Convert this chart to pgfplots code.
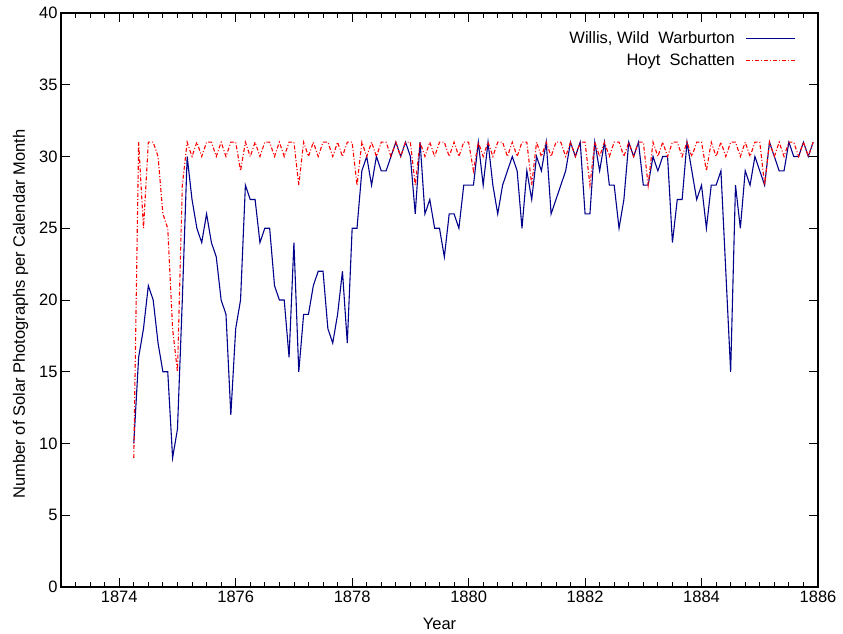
\documentclass[border=0pt]{standalone}
\usepackage{pgfplots}
\usepackage{pgfplotstable}
\pgfplotsset{compat=1.18}
\usepackage{fontspec}
\setmainfont{Liberation Sans}
\definecolor{wblue}{RGB}{0,0,139}
\definecolor{hred}{RGB}{255,0,0}
\pgfplotstableread{
yr mo wil hoyt
1874 4 10 9
1874 5 16 31
1874 6 18 25
1874 7 21 31
1874 8 20 31
1874 9 17 30
1874 10 15 26
1874 11 15 25
1874 12 9 18
1875 1 11 15
1875 2 20 28
1875 3 30 31
1875 4 27 30
1875 5 25 31
1875 6 24 30
1875 7 26 31
1875 8 24 31
1875 9 23 30
1875 10 20 31
1875 11 19 30
1875 12 12 31
1876 1 18 31
1876 2 20 29
1876 3 28 31
1876 4 27 30
1876 5 27 31
1876 6 24 30
1876 7 25 31
1876 8 25 31
1876 9 21 30
1876 10 20 31
1876 11 20 30
1876 12 16 31
1877 1 24 31
1877 2 15 28
1877 3 19 31
1877 4 19 30
1877 5 21 31
1877 6 22 30
1877 7 22 31
1877 8 18 31
1877 9 17 30
1877 10 19 31
1877 11 22 30
1877 12 17 31
1878 1 25 31
1878 2 25 28
1878 3 29 31
1878 4 30 30
1878 5 28 31
1878 6 30 30
1878 7 29 31
1878 8 29 31
1878 9 30 30
1878 10 31 31
1878 11 30 30
1878 12 31 31
1879 1 30 31
1879 2 26 28
1879 3 31 31
1879 4 26 30
1879 5 27 31
1879 6 25 30
1879 7 25 31
1879 8 23 31
1879 9 26 30
1879 10 26 31
1879 11 25 30
1879 12 28 31
1880 1 28 31
1880 2 28 29
1880 3 31 31
1880 4 28 30
1880 5 31 31
1880 6 28 30
1880 7 26 31
1880 8 28 31
1880 9 29 30
1880 10 30 31
1880 11 29 30
1880 12 25 31
1881 1 29 31
1881 2 27 28
1881 3 30 31
1881 4 29 30
1881 5 31 31
1881 6 26 30
1881 7 27 31
1881 8 28 31
1881 9 29 30
1881 10 31 31
1881 11 30 30
1881 12 31 31
1882 1 26 31
1882 2 26 28
1882 3 31 31
1882 4 29 30
1882 5 31 31
1882 6 28 30
1882 7 28 31
1882 8 25 31
1882 9 27 30
1882 10 31 31
1882 11 30 30
1882 12 31 31
1883 1 28 31
1883 2 28 28
1883 3 30 31
1883 4 29 30
1883 5 30 31
1883 6 30 30
1883 7 24 31
1883 8 27 31
1883 9 27 30
1883 10 31 31
1883 11 29 30
1883 12 27 31
1884 1 28 31
1884 2 25 29
1884 3 28 31
1884 4 28 30
1884 5 29 31
1884 6 22 30
1884 7 15 31
1884 8 28 31
1884 9 25 30
1884 10 29 31
1884 11 28 30
1884 12 30 31
1885 1 29 31
1885 2 28 28
1885 3 31 31
1885 4 30 30
1885 5 29 31
1885 6 29 30
1885 7 31 31
1885 8 30 31
1885 9 30 30
1885 10 31 31
1885 11 30 30
1885 12 31 31
}\datatable
\begin{document}
\begin{tikzpicture}[font=\fontsize{16.5bp}{19bp}\selectfont]
\path[use as bounding box] (-61bp,-47bp) rectangle (782bp,587bp);
\begin{axis}[
  at={(0,0)}, anchor=south west,
  scale only axis, width=757bp, height=574bp,
  xmin=1873, xmax=1886, ymin=0, ymax=40,
  xtick={1874,1876,...,1886},
  minor xtick={1873,1873.25,...,1886},
  ytick={0,5,...,40},
  /pgf/number format/assume math mode=true,
  xticklabel style={/pgf/number format/1000 sep={}},
  tick align=inside,
  major tick length=9bp, minor tick length=5bp,
  every tick/.style={black, line width=0.8bp},
  axis line style={black, line width=1.2bp},
  xlabel={Year},
  ylabel={Number of Solar Photographs per Calendar Month},
  xlabel style={yshift=-9bp},
  ylabel style={yshift=4bp, xshift=-14bp},
  legend plot pos=right,
  legend cell align=right,
  legend style={draw=none, fill=none, at={(0.975,0.975)}, anchor=north east, row sep=5bp, font=\fontsize{16.5bp}{19bp}\selectfont,
    /tikz/every odd column/.append style={column sep=9bp}},
  legend image code/.code={\draw[#1] (0bp,0bp) -- (49bp,0bp);},
]
\addplot[wblue, line width=1.1bp] table[x expr=\thisrow{yr}+(\thisrow{mo}-1)/12, y=wil] {\datatable};
\addlegendentry{Willis, Wild\ \ Warburton}
\addplot[hred, line width=1.1bp, dash pattern=on 4bp off 2bp on 1bp off 2bp] table[x expr=\thisrow{yr}+(\thisrow{mo}-1)/12, y=hoyt] {\datatable};
\addlegendentry{Hoyt\ \ Schatten}
\end{axis}
\end{tikzpicture}
\end{document}
